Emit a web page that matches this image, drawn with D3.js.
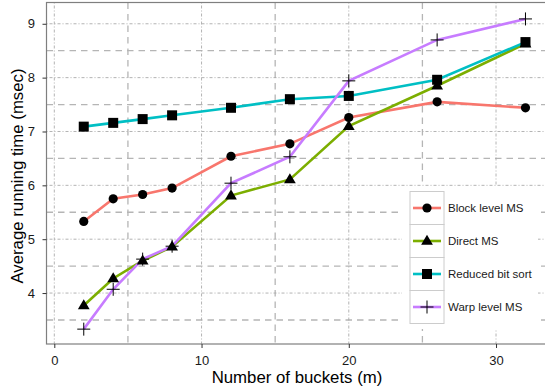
<!DOCTYPE html>
<meta charset="utf-8">
<script src="https://d3js.org/d3.v7.js"></script>
<style>
  body { margin: 0; background: #fff; }
  text { font-family: "Liberation Sans", Arial, sans-serif; }
</style>
<svg id="chart" width="545" height="391"></svg>
<script>

// data
const buckets = [2, 4, 6, 8, 12, 16, 20, 26, 32];
const blockLevel = [5.33, 5.75, 5.83, 5.95, 6.54, 6.77, 7.26, 7.55, 7.44];
const directMS   = [3.77, 4.27, 4.60, 4.86, 5.81, 6.11, 7.10, 7.85, 8.63];
const reducedBit = [7.09, 7.16, 7.23, 7.30, 7.44, 7.60, 7.66, 7.96, 8.66];
const warpLevel  = [3.33, 4.07, 4.63, 4.87, 6.04, 6.53, 7.94, 8.70, 9.09];

const seriesNames = ["Block level MS", "Direct MS", "Reduced bit sort", "Warp level MS"];
const seriesColors = ["#F8766D", "#7CAE00", "#00BFC4", "#C77CFF"];
const seriesShapes = ["circle", "triangle", "square", "plus"];
const seriesValues = [blockLevel, directMS, reducedBit, warpLevel];

const xTicks = [0, 10, 20, 30];
const yTicks = [4, 5, 6, 7, 8, 9];

const svg = d3.select("#chart");

// panel box
const pLeft = 46.5, pTop = 2.5, pRight = 548, pBottom = 344;

const x = d3.scaleLinear().domain([-0.53, 33.53]).range([pLeft, pRight]);
const y = d3.scaleLinear().domain([3.054, 9.395]).range([pBottom, pTop]);

const series = seriesNames.map((name, i) => ({
  name: name,
  color: seriesColors[i],
  shape: seriesShapes[i],
  values: buckets.map((b, j) => ({ x: b, y: seriesValues[i][j] }))
}));

// panel background
svg.append("rect")
  .attr("x", pLeft).attr("y", pTop)
  .attr("width", pRight - pLeft).attr("height", pBottom - pTop)
  .attr("fill", "white");

// minor grid (dashed)
const g = svg.append("g");
const xMinor = [5, 15, 25];
const yMinor = [3.5, 4.5, 5.5, 6.5, 7.5, 8.5];
g.selectAll(".xminor").data(xMinor).join("line")
  .attr("x1", d => x(d)).attr("x2", d => x(d))
  .attr("y1", pTop).attr("y2", pBottom)
  .attr("stroke", "#b5b5b5").attr("stroke-width", 1.3)
  .attr("stroke-dasharray", "6.5,5");
g.selectAll(".yminor").data(yMinor).join("line")
  .attr("y1", d => y(d)).attr("y2", d => y(d))
  .attr("x1", pLeft).attr("x2", pRight)
  .attr("stroke", "#b5b5b5").attr("stroke-width", 1.3)
  .attr("stroke-dasharray", "6.5,5");

// major grid (dot-dash)
g.selectAll(".xmajor").data(xTicks).join("line")
  .attr("x1", d => x(d)).attr("x2", d => x(d))
  .attr("y1", pTop).attr("y2", pBottom)
  .attr("stroke", "#aaaaaa").attr("stroke-width", 0.9)
  .attr("stroke-dasharray", "1,2,3,2");
g.selectAll(".ymajor").data(yTicks).join("line")
  .attr("y1", d => y(d)).attr("y2", d => y(d))
  .attr("x1", pLeft).attr("x2", pRight)
  .attr("stroke", "#aaaaaa").attr("stroke-width", 0.9)
  .attr("stroke-dasharray", "1,2,3,2");

// lines
const line = d3.line().x(d => x(d.x)).y(d => y(d.y));
svg.append("g").selectAll("path")
  .data(series)
  .join("path")
    .attr("d", d => line(d.values))
    .attr("fill", "none")
    .attr("stroke", d => d.color)
    .attr("stroke-width", 2.6);

// point shapes
function drawShape(sel, shape, cx, cy) {
  if (shape === "circle") {
    sel.append("circle").attr("cx", cx).attr("cy", cy).attr("r", 4.6).attr("fill", "black");
  } else if (shape === "triangle") {
    const s = 6.2;
    sel.append("path")
      .attr("d", `M${cx},${cy - s}L${cx + s * 0.95},${cy + s * 0.62}L${cx - s * 0.95},${cy + s * 0.62}Z`)
      .attr("fill", "black");
  } else if (shape === "square") {
    sel.append("rect").attr("x", cx - 5).attr("y", cy - 5).attr("width", 10).attr("height", 10).attr("fill", "black");
  } else {
    const s = 6.5;
    sel.append("path")
      .attr("d", `M${cx - s},${cy}H${cx + s}M${cx},${cy - s}V${cy + s}`)
      .attr("stroke", "black").attr("stroke-width", 1).attr("fill", "none");
  }
}

const pts = svg.append("g");
series.forEach(s => {
  s.values.forEach(v => drawShape(pts, s.shape, x(v.x), y(v.y)));
});

// panel border
svg.append("rect")
  .attr("x", pLeft).attr("y", pTop)
  .attr("width", pRight - pLeft).attr("height", pBottom - pTop)
  .attr("fill", "none").attr("stroke", "#7f7f7f").attr("stroke-width", 1.2);

// axes
const xAxis = svg.append("g")
  .attr("transform", `translate(0,${pBottom})`)
  .call(d3.axisBottom(x).tickValues(xTicks).tickFormat(d3.format("d")).tickSize(4).tickPadding(7.5));
const yAxis = svg.append("g")
  .attr("transform", `translate(${pLeft},0)`)
  .call(d3.axisLeft(y).tickValues(yTicks).tickFormat(d3.format("d")).tickSize(4).tickPadding(7.5));
[xAxis, yAxis].forEach(a => {
  a.select(".domain").remove();
  a.selectAll(".tick line").attr("stroke", "#333").attr("stroke-width", 1);
  a.selectAll("text").attr("font-size", 13).attr("fill", "#1a1a1a")
    .style("font-family", "'Liberation Sans', Arial, sans-serif");
});

// axis titles
svg.append("text")
  .attr("x", 297).attr("y", 383)
  .attr("text-anchor", "middle").attr("font-size", 16.8)
  .text("Number of buckets (m)");
svg.append("text")
  .attr("transform", "translate(23,176) rotate(-90)")
  .attr("text-anchor", "middle").attr("font-size", 16.8)
  .text("Average running time (msec)");

// legend
const lg = svg.append("g");
lg.append("rect")
  .attr("x", 402).attr("y", 186).attr("width", 136).attr("height", 143)
  .attr("fill", "white");
const keyH = 33, keyX = 410, keyY = 191.5, keyW = 34;
series.forEach((s, i) => {
  const ky = keyY + i * keyH;
  lg.append("rect")
    .attr("x", keyX).attr("y", ky).attr("width", keyW).attr("height", keyH)
    .attr("fill", "white").attr("stroke", "#cccccc").attr("stroke-width", 1);
  lg.append("line")
    .attr("x1", keyX + 3).attr("x2", keyX + keyW - 3)
    .attr("y1", ky + keyH / 2).attr("y2", ky + keyH / 2)
    .attr("stroke", s.color).attr("stroke-width", 2.6);
  drawShape(lg, s.shape, keyX + keyW / 2, ky + keyH / 2);
  lg.append("text")
    .attr("x", 448).attr("y", ky + keyH / 2 + 4)
    .attr("font-size", 11.5).attr("fill", "#1a1a1a")
    .text(s.name);
});

</script>
